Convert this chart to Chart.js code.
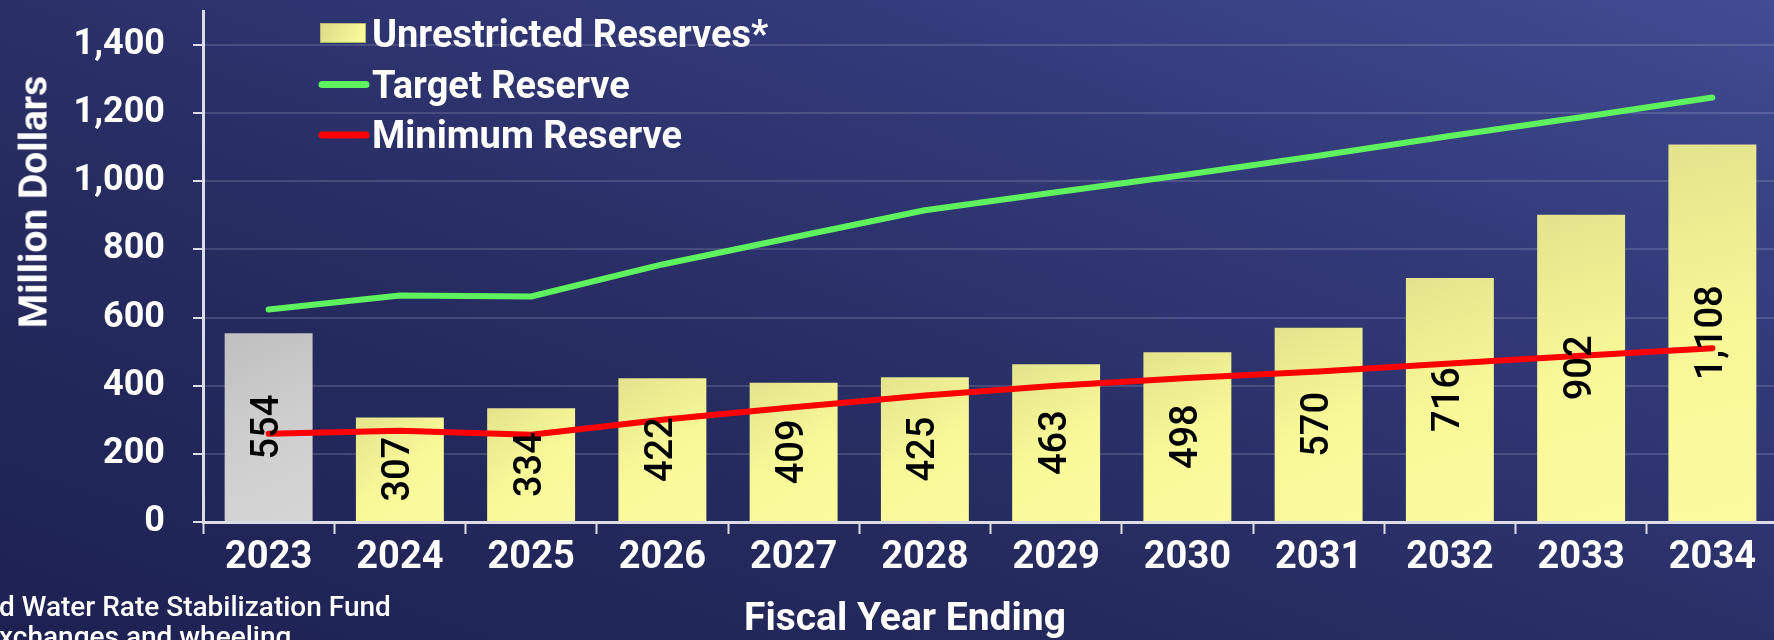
<!DOCTYPE html>
<html>
<head>
<meta charset="utf-8">
<title>Unrestricted Reserves</title>
<script src="https://cdn.jsdelivr.net/npm/chart.js@4.4.1/dist/chart.umd.min.js"></script>
<style>
    html, body { margin: 0; padding: 0; width: 1774px; height: 640px; overflow: hidden; }
    body {
        position: relative;
        background: linear-gradient(to top right, #1d2152 0%, #272c61 40%, #323978 70%, #414c93 100%);
        font-family: Roboto, sans-serif;
        color: #fff;
    }
    #chart { position: absolute; left: 0; top: 0; }
    .y-title {
        position: absolute; left: 34px; top: 202px;
        transform: translate(-50%, -50%) rotate(-90deg);
        font: bold 39px/1 Roboto, sans-serif; white-space: nowrap;
    }
    .x-title {
        position: absolute; left: 905px; top: 598px;
        transform: translateX(-50%);
        font: bold 39px/1 Roboto, sans-serif; white-space: nowrap;
    }
    .note {
        position: absolute; left: -1px; top: 592px;
        font: 500 28px/30px Roboto, sans-serif; white-space: nowrap;
    }
</style>
</head>
<body>
<canvas id="chart" width="1778" height="640"></canvas>
<div class="y-title">Million Dollars</div>
<div class="x-title">Fiscal Year Ending</div>
<div class="note">d Water Rate Stabilization Fund<br>xchanges and wheeling</div>

<script>
// Fiscal years and reserve levels, $ millions
const years = ['2023', '2024', '2025', '2026', '2027', '2028', '2029', '2030', '2031', '2032', '2033', '2034'];
const unrestricted = [554, 307, 334, 422, 409, 425, 463, 498, 570, 716, 902, 1108];
const targetReserve = [624, 665, 662, 756, 836, 915, 968, 1020, 1075, 1133, 1188, 1246];
const minimumReserve = [259, 268, 256, 300, 337, 371, 400, 423, 442, 465, 488, 510];
const seriesNames = ['Unrestricted Reserves*', 'Target Reserve', 'Minimum Reserve'];
const yTicks = [0, 200, 400, 600, 800, 1000, 1200, 1400];

const GREEN = '#5ef25e';
const RED = '#ff0000';

// diagonal shading for each bar; first year is actuals (grey)
function barFill(ctx) {
    const chart = ctx.chart;
    if (!chart.chartArea || ctx.dataIndex === undefined) return '#f5f59a';
    const x = chart.scales.x, y = chart.scales.y;
    const cx = x.getPixelForValue(ctx.dataIndex);
    const half = x.width / years.length * 0.335;
    const g = chart.ctx.createLinearGradient(cx - half, y.getPixelForValue(ctx.raw), cx + half, y.getPixelForValue(0));
    if (ctx.dataIndex === 0) {
        g.addColorStop(0, '#bfbfbf'); g.addColorStop(0.5, '#cecece'); g.addColorStop(1, '#d5d5d5');
    } else {
        g.addColorStop(0, '#e3e38c'); g.addColorStop(0.5, '#f8f898'); g.addColorStop(1, '#fcfc9f');
    }
    return g;
}

// vertical value labels inside the bars
const barLabels = {
    id: 'barLabels',
    afterDatasetsDraw(chart) {
        const c = chart.ctx;
        const meta = chart.getDatasetMeta(0);
        c.save();
        c.fillStyle = '#000';
        c.font = '500 38px Roboto, sans-serif';
        c.textAlign = 'center';
        c.textBaseline = 'middle';
        meta.data.forEach((bar, i) => {
            c.save();
            c.translate(bar.x, (bar.y + bar.base) / 2);
            c.rotate(-Math.PI / 2);
            c.fillText(unrestricted[i].toLocaleString('en-US'), 0, 0);
            c.restore();
        });
        c.restore();
    }
};

// legend stacked in the upper left of the plot
const legendBox = {
    id: 'legendBox',
    afterDraw(chart) {
        const c = chart.ctx;
        const left = 320, textX = 372, top = 23, step = 50.5;
        c.save();
        chart.data.datasets.forEach((ds, i) => {
            const mid = top + 11 + i * step;
            if (ds.type === 'bar') {
                const g = c.createLinearGradient(left, top, left + 46, top + 20);
                g.addColorStop(0, '#dcdc86'); g.addColorStop(1, '#fcfc9f');
                c.fillStyle = g;
                c.fillRect(left, top + i * step, 46, 20);
                c.strokeStyle = '#b6b66c';
                c.lineWidth = 1;
                c.strokeRect(left + 0.5, top + i * step + 0.5, 45, 19);
            } else {
                c.strokeStyle = ds.borderColor;
                c.lineWidth = 7;
                c.lineCap = 'round';
                c.beginPath();
                c.moveTo(left + 2, mid);
                c.lineTo(left + 46, mid);
                c.stroke();
            }
            c.fillStyle = '#fff';
            c.font = 'bold 38px Roboto, sans-serif';
            c.textAlign = 'left';
            c.textBaseline = 'alphabetic';
            c.fillText(ds.label, textX, top + 24 + i * step);
        });
        c.restore();
    }
};

new Chart(document.getElementById('chart'), {
    data: {
        labels: years,
        datasets: [
            { type: 'bar', label: seriesNames[0], data: unrestricted, backgroundColor: barFill, borderWidth: 0,
              barPercentage: 0.67, categoryPercentage: 1, order: 3 },
            { type: 'line', label: seriesNames[1], data: targetReserve, borderColor: GREEN, borderWidth: 6,
              pointRadius: 0, tension: 0, borderCapStyle: 'round', borderJoinStyle: 'round', fill: false, order: 2 },
            { type: 'line', label: seriesNames[2], data: minimumReserve, borderColor: RED, borderWidth: 6,
              pointRadius: 0, tension: 0, borderCapStyle: 'round', borderJoinStyle: 'round', fill: false, order: 1 }
        ]
    },
    options: {
        responsive: false,
        animation: false,
        devicePixelRatio: 1,
        layout: { padding: { top: 11, left: 0, right: 0, bottom: 0 } },
        plugins: { legend: { display: false }, tooltip: { enabled: false } },
        scales: {
            x: {
                grid: { display: true, drawOnChartArea: false, offset: true, tickLength: 12, tickWidth: 2, tickColor: '#dcdce6' },
                border: { color: '#dcdce6', width: 3 },
                ticks: { color: '#fff', font: { family: 'Roboto', weight: 'bold', size: 38 }, padding: 2, maxRotation: 0 },
                afterFit(s) { s.height = 118; s.paddingLeft = 0; s.paddingRight = 0; }
            },
            y: {
                min: 0,
                max: 1500,
                afterBuildTicks(s) { s.ticks = yTicks.map(v => ({ value: v })); },
                grid: { color: 'rgba(255,255,255,0.14)', lineWidth: 2, tickLength: 10, tickWidth: 2, tickColor: '#dcdce6' },
                border: { color: '#dcdce6', width: 3 },
                ticks: {
                    color: '#fff', padding: 28,
                    font: { family: 'Roboto', weight: 'bold', size: 36 },
                    callback: v => v.toLocaleString('en-US')
                },
                afterFit(s) { s.width = 203; s.paddingTop = 0; s.paddingBottom = 0; }
            }
        }
    },
    plugins: [barLabels, legendBox]
});
</script>
</body>
</html>
